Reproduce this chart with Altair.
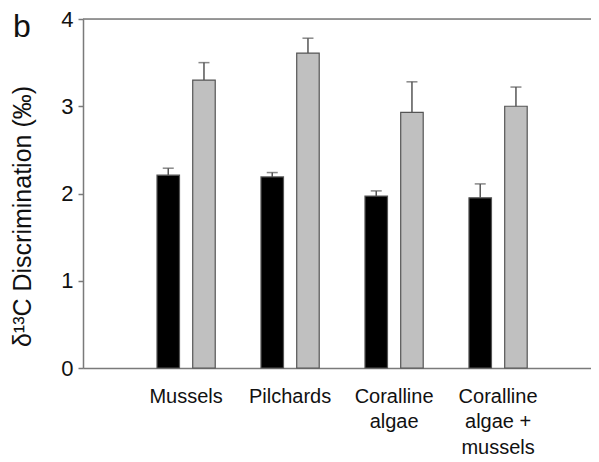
import json
import altair as alt
import pandas as pd

categories = ["Mussels", "Pilchards", "Coralline algae", "Coralline algae + mussels"]
tick_lines = [["Mussels"], ["Pilchards"], ["Coralline", "algae"], ["Coralline", "algae +", "mussels"]]
series = ["Black", "Grey"]
black_vals = [2.21, 2.19, 1.97, 1.95]
black_err = [0.08, 0.05, 0.06, 0.16]
grey_vals = [3.30, 3.61, 2.93, 3.00]
grey_err = [0.20, 0.17, 0.35, 0.22]
y_ticks = [0, 1, 2, 3, 4]

rows = []
for i, c in enumerate(categories):
    rows.append({"cat": c, "series": series[0], "val": black_vals[i], "hi": black_vals[i] + black_err[i]})
    rows.append({"cat": c, "series": series[1], "val": grey_vals[i], "hi": grey_vals[i] + grey_err[i]})
df = pd.DataFrame(rows)

label_map = json.dumps({c: l for c, l in zip(categories, tick_lines)})
label_expr = f"{label_map}[datum.value]"

FRAME = "#7a7a7a"
PLOT_H = 349

x_enc = alt.X(
    "cat:N",
    sort=categories,
    scale=alt.Scale(paddingInner=0.44, paddingOuter=0.6625, align=0.537),
    axis=alt.Axis(
        title=None, labelAngle=0, ticks=False, tickSize=0, labelPadding=18,
        labelFontSize=20, labelLineHeight=25.5, labelBaseline="top",
        labelColor="#111", domainColor=FRAME, domainWidth=1.5, labelExpr=label_expr,
    ),
)
xo_enc = alt.XOffset("series:N", sort=series, scale=alt.Scale(paddingInner=0.37, paddingOuter=0))
y_enc = alt.Y(
    "val:Q",
    scale=alt.Scale(domain=[0, 4], nice=False),
    axis=alt.Axis(
        title="δ¹³C Discrimination (‰)", values=y_ticks, format="d", grid=False,
        tickColor=FRAME, tickSize=5, tickWidth=1.5, labelPadding=5, labelFontSize=22,
        labelColor="#111", domainColor=FRAME, domainWidth=1.5,
        titleFontSize=25, titleFontWeight="normal", titleColor="#111",
        titleX=-61, titleY=197, titleAngle=-90, titleBaseline="middle", titleAlign="center",
    ),
)

base = alt.Chart(df)

bars = base.mark_bar(stroke="#555555", strokeWidth=1.2).encode(
    x=x_enc, xOffset=xo_enc, y=y_enc,
    color=alt.Color("series:N", sort=series,
                    scale=alt.Scale(domain=series, range=["#000000", "#c0c0c0"]), legend=None),
)

err = base.mark_rule(color="#555555", strokeWidth=1.5).encode(
    x=x_enc, xOffset=xo_enc, y="val:Q", y2="hi:Q",
)

caps = base.mark_tick(color="#555555", thickness=1.5, size=11).encode(
    x=x_enc, xOffset=xo_enc, y="hi:Q",
)

top = alt.Chart(pd.DataFrame({"v": [4]})).mark_rule(color=FRAME, strokeWidth=1.5).encode(y="v:Q")

letter = alt.Chart(pd.DataFrame({"t": ["b"]})).mark_text(
    fontSize=32, align="left", baseline="alphabetic", color="#111"
).encode(text="t:N", x=alt.value(-70), y=alt.value(18))

chart = alt.layer(bars, err, caps, top, letter).properties(
    width=508, height=PLOT_H,
    autosize=alt.AutoSizeParams(type="none"),
    padding={"left": 75, "top": 11, "right": 0, "bottom": 92},
).configure_view(stroke=None).configure(font="Liberation Sans")

chart.save("out.html", embed_options={"renderer": "svg", "actions": False})
